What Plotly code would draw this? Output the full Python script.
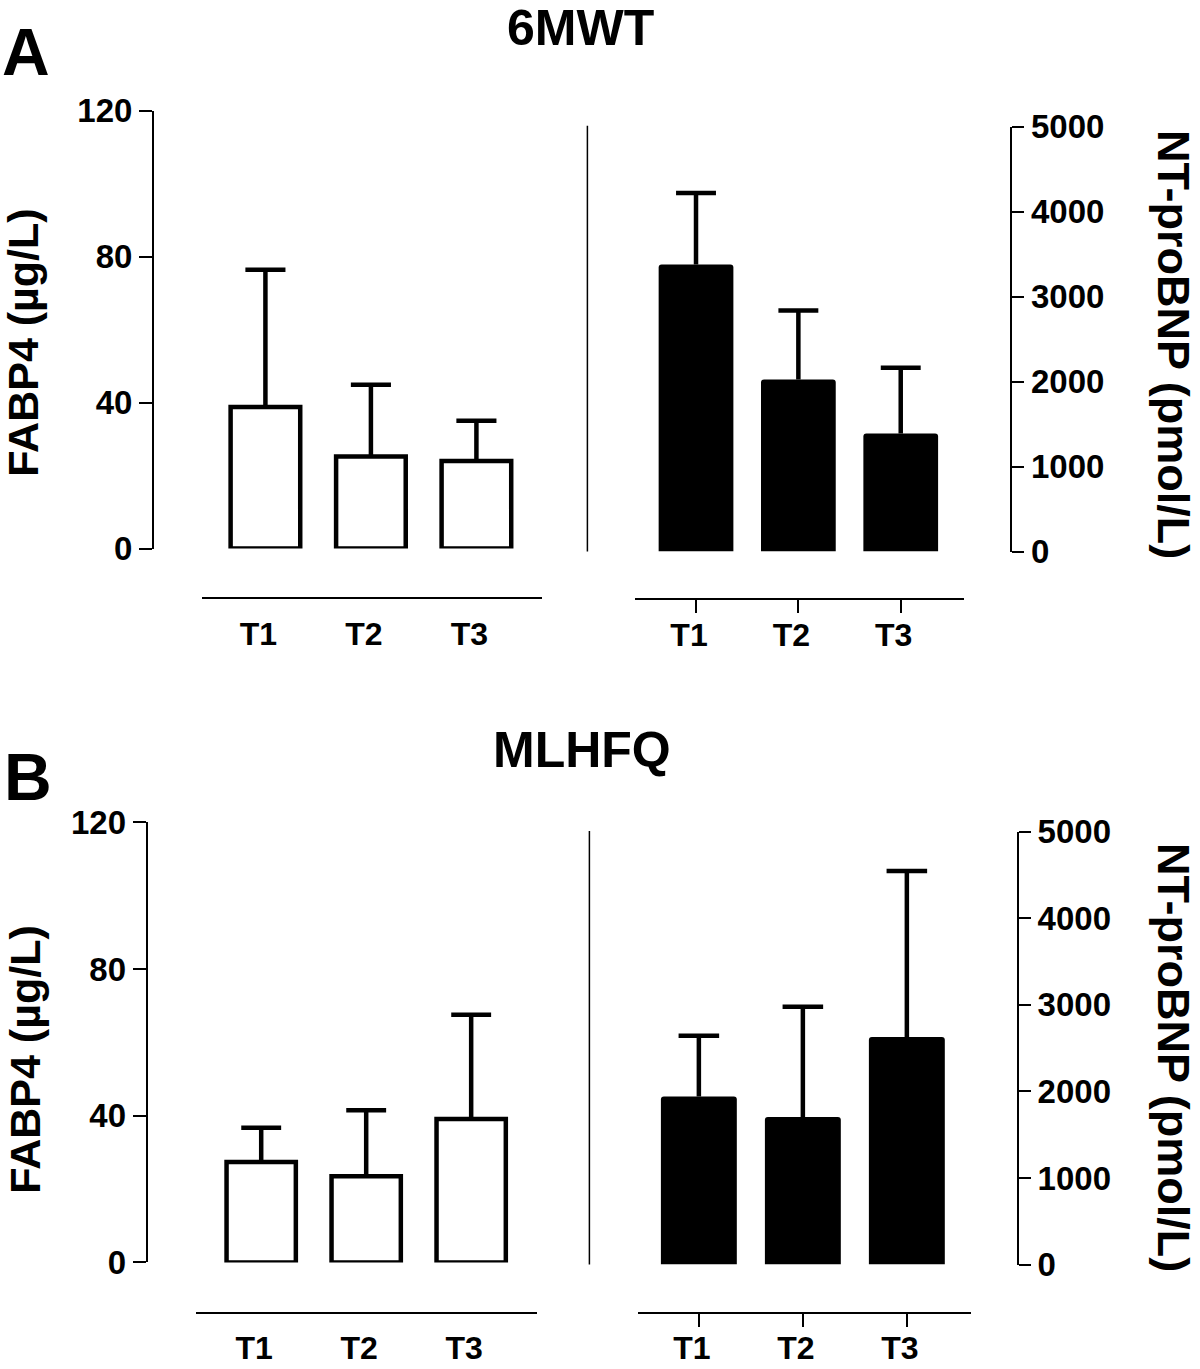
import plotly.graph_objects as go

W, H = 1200, 1369

# ---------------- data ----------------
categories = ["T1", "T2", "T3"]

fabp4_6mwt = [38.8, 25.2, 24.0]
fabp4_6mwt_err = [37.6, 19.7, 11.0]
ntprobnp_6mwt = [3378, 2026, 1388]
ntprobnp_6mwt_err = [841, 810, 775]

fabp4_mlhfq = [27.4, 23.5, 39.1]
fabp4_mlhfq_err = [9.3, 18.0, 28.4]
ntprobnp_mlhfq = [1943, 1704, 2628]
ntprobnp_mlhfq_err = [701, 1275, 1919]

fabp4_ticks = [0, 40, 80, 120]
ntprobnp_ticks = [0, 1000, 2000, 3000, 4000, 5000]

panel_letters = ["A", "B"]
panel_titles = ["6MWT", "MLHFQ"]
left_title = "FABP4 (µg/L)"
right_title = "NT-proBNP (pmol/L)"

FONT = "Liberation Sans, Arial, Helvetica, sans-serif"


def fx(px):
    return px / W


def fy(py):
    return 1 - py / H


fig = go.Figure()


def add_errors(vals, errs, xa, ya, half):
    xs, ys = [], []
    for i, (v, e) in enumerate(zip(vals, errs)):
        xs += [i, i, None, i - half, i + half, None]
        ys += [v, v + e, None, v + e, v + e, None]
    fig.add_trace(go.Scatter(x=xs, y=ys, mode="lines",
                             line=dict(color="black", width=4.5),
                             xaxis=xa, yaxis=ya, hoverinfo="skip",
                             showlegend=False, cliponaxis=False))


# panel geometry (pixels)
panels = [
    dict(lv=fabp4_6mwt, le=fabp4_6mwt_err, rv=ntprobnp_6mwt, re=ntprobnp_6mwt_err,
         lx=(201.7, 541.5), lr=(-0.604, 2.617), lyax=153, ly=(548.6, 110.6), lxline=598.4,
         rx=(634.7, 964.3), rr=(-0.599, 2.621), ryax=1011.4, ry=(551.6, 126.6), rxline=599.3,
         mid=(587.4, 125.8, 551.6),
         letter=(25.7, 52.0), title=(580.5, 28.0),
         ltitle=(23.5, 343.3), rtitle=(1173.5, 344.5)),
    dict(lv=fabp4_mlhfq, le=fabp4_mlhfq_err, rv=ntprobnp_mlhfq, re=ntprobnp_mlhfq_err,
         lx=(196.0, 537.0), lr=(-0.621, 2.627), lyax=146.6, ly=(1262.4, 822.3), lxline=1313,
         rx=(637.5, 970.5), rr=(-0.590, 2.612), ryax=1018, ry=(1264.6, 831.8), rxline=1313,
         mid=(589.4, 831, 1264.6),
         letter=(27.7, 777.0), title=(582.0, 749.5),
         ltitle=(25.0, 1059.7), rtitle=(1173.5, 1057.5)),
]

layout = dict(width=W, height=H,
              margin=dict(l=0, r=0, t=0, b=0, pad=0, autoexpand=False),
              paper_bgcolor="white", plot_bgcolor="white", showlegend=False,
              font=dict(family=FONT, color="black"))
shapes, annotations = [], []

tickfont = dict(family=FONT, size=33, color="black", weight="bold")
xtickfont = dict(family=FONT, size=32, color="black", weight="bold")

n = 1
for p_i, p in enumerate(panels):
    # ---- left (FABP4, open bars) ----
    xa, ya = f"x{n}", f"y{n}"
    xk, yk = f"xaxis{n}", f"yaxis{n}"
    fig.add_trace(go.Bar(x=list(range(3)), y=p["lv"], width=0.66,
                         marker=dict(color="white", line=dict(color="black", width=4.5)),
                         xaxis=xa, yaxis=ya, cliponaxis=False, hoverinfo="skip"))
    add_errors(p["lv"], p["le"], xa, ya, 0.19)
    layout[xk] = dict(domain=[fx(p["lx"][0]), fx(p["lx"][1])], range=list(p["lr"]),
                      anchor="free", position=fy(p["lxline"]), automargin=False,
                      showline=True, linecolor="black", linewidth=2,
                      ticks="outside", ticklen=13, tickwidth=2, tickcolor="rgba(0,0,0,0)",
                      ticklabelstandoff=-6, ticklabelshift=-7,
                      tickvals=[0, 1, 2], ticktext=categories, tickfont=xtickfont,
                      showgrid=False, zeroline=False, fixedrange=True)
    layout[yk] = dict(domain=[fy(p["ly"][0]), fy(p["ly"][1])], range=[0, 120],
                      anchor="free", position=fx(p["lyax"]), automargin=False,
                      showline=True, linecolor="black", linewidth=2,
                      ticks="outside", ticklen=13, tickwidth=2, tickcolor="black",
                      tickvals=fabp4_ticks, tickfont=tickfont,
                      showgrid=False, zeroline=False, fixedrange=True)
    n += 1

    # ---- right (NT-proBNP, filled bars) ----
    xa, ya = f"x{n}", f"y{n}"
    xk, yk = f"xaxis{n}", f"yaxis{n}"
    fig.add_trace(go.Bar(x=list(range(3)), y=p["rv"], width=0.73,
                         marker=dict(color="black", line=dict(width=0), cornerradius=3),
                         xaxis=xa, yaxis=ya, cliponaxis=False, hoverinfo="skip"))
    add_errors(p["rv"], p["re"], xa, ya, 0.195)
    layout[xk] = dict(domain=[fx(p["rx"][0]), fx(p["rx"][1])], range=list(p["rr"]),
                      anchor="free", position=fy(p["rxline"]), automargin=False,
                      showline=True, linecolor="black", linewidth=2,
                      ticks="outside", ticklen=13, tickwidth=2, tickcolor="black",
                      ticklabelstandoff=-6, ticklabelshift=-7,
                      tickvals=[0, 1, 2], ticktext=categories, tickfont=xtickfont,
                      showgrid=False, zeroline=False, fixedrange=True)
    layout[yk] = dict(domain=[fy(p["ry"][0]), fy(p["ry"][1])], range=[0, 5000],
                      anchor="free", position=fx(p["ryax"]), side="right", automargin=False,
                      showline=True, linecolor="black", linewidth=2,
                      ticks="outside", ticklen=12, tickwidth=2, tickcolor="black",
                      tickvals=ntprobnp_ticks, tickfont=tickfont,
                      showgrid=False, zeroline=False, fixedrange=True)
    n += 1

    # divider line
    mx, my0, my1 = p["mid"]
    shapes.append(dict(type="line", xref="paper", yref="paper",
                       x0=fx(mx), x1=fx(mx), y0=fy(my0), y1=fy(my1),
                       line=dict(color="black", width=1.5)))

    # texts
    annotations.append(dict(text=panel_letters[p_i], x=fx(p["letter"][0]), y=fy(p["letter"][1]),
                            xref="paper", yref="paper", xanchor="center", yanchor="middle",
                            showarrow=False,
                            font=dict(family=FONT, size=66, color="black", weight="bold")))
    annotations.append(dict(text=panel_titles[p_i], x=fx(p["title"][0]), y=fy(p["title"][1]),
                            xref="paper", yref="paper", xanchor="center", yanchor="middle",
                            showarrow=False,
                            font=dict(family=FONT, size=50, color="black", weight="bold")))
    annotations.append(dict(text=left_title, x=fx(p["ltitle"][0]), y=fy(p["ltitle"][1]),
                            xref="paper", yref="paper", xanchor="center", yanchor="middle",
                            textangle=-90, showarrow=False,
                            font=dict(family=FONT, size=43, color="black", weight="bold")))
    annotations.append(dict(text=right_title, x=fx(p["rtitle"][0]), y=fy(p["rtitle"][1]),
                            xref="paper", yref="paper", xanchor="center", yanchor="middle",
                            textangle=90, showarrow=False,
                            font=dict(family=FONT, size=45, color="black", weight="bold")))

layout["shapes"] = shapes
layout["annotations"] = annotations
layout["barmode"] = "overlay"
fig.update_layout(**layout)

fig.write_html("out.html", config={"displayModeBar": False},
               post_script="document.body.style.margin='0';document.body.style.overflow='hidden';")
